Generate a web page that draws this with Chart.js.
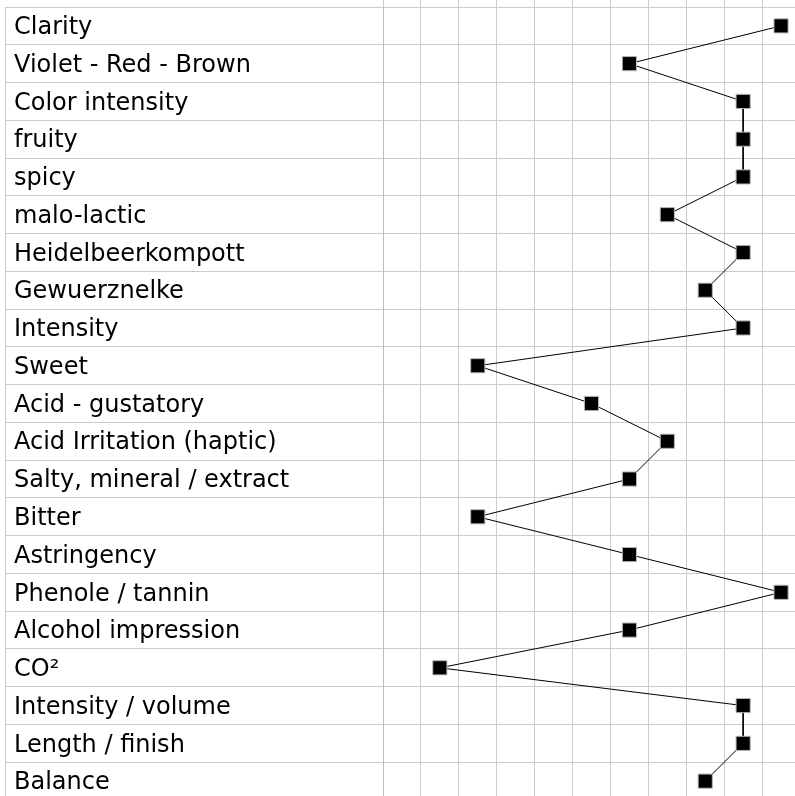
<!DOCTYPE html>
<html>
<head>
<meta charset="utf-8">
<script src="https://cdn.jsdelivr.net/npm/chart.js@4/dist/chart.umd.min.js"></script>
<style>
  html, body { margin: 0; padding: 0; background: #fff; overflow: hidden; }
  #wrap { width: 795px; height: 796px; overflow: hidden; }
</style>
</head>
<body>
<div id="wrap"><canvas id="tasting" width="800" height="800"></canvas></div>
<script>
// Kriterien (Zeilen der Tabelle)
const criteria = [
    'Clarity',
    'Violet - Red - Brown',
    'Color intensity',
    'fruity',
    'spicy',
    'malo-lactic',
    'Heidelbeerkompott',
    'Gewuerznelke',
    'Intensity',
    'Sweet',
    'Acid - gustatory',
    'Acid Irritation (haptic)',
    'Salty, mineral / extract',
    'Bitter',
    'Astringency',
    'Phenole / tannin',
    'Alcohol impression',
    'CO²',
    'Intensity / volume',
    'Length / finish',
    'Balance'
];

// Bewertung pro Kriterium (Spalte 1..11)
const scores = [11, 7, 10, 10, 10, 8, 10, 9, 10, 3, 6, 8, 7, 3, 7, 11, 7, 2, 10, 10, 9];

// Skala
const scoreMin = 1;
const scoreMax = 11;

const gridColor = '#cccccc';

// Linker Rand der Tabelle (linke Spalte mit den Kriterien)
const tableBorder = {
    id: 'tableBorder',
    afterDraw(chart) {
        const y = chart.scales.y;
        const ctx = chart.ctx;
        ctx.save();
        ctx.strokeStyle = gridColor;
        ctx.lineWidth = 1;
        ctx.beginPath();
        ctx.moveTo(5.5, y.top);
        ctx.lineTo(5.5, y.bottom);
        ctx.stroke();
        ctx.restore();
    }
};

const ctx = document.getElementById('tasting').getContext('2d');
new Chart(ctx, {
    type: 'line',
    data: {
        labels: criteria,
        datasets: [{
            data: scores,
            borderColor: '#000',
            borderWidth: 1,
            pointStyle: 'rect',
            pointRadius: 10,
            pointBackgroundColor: '#000',
            pointBorderColor: '#b5b5b5',
            pointBorderWidth: 1,
            tension: 0,
            clip: false
        }]
    },
    options: {
        indexAxis: 'y',
        responsive: false,
        animation: false,
        layout: { autoPadding: false, padding: { left: 14, right: 0, top: 0, bottom: 0 } },
        plugins: {
            legend: { display: false },
            tooltip: { enabled: false }
        },
        scales: {
            x: {
                type: 'linear',
                position: 'top',
                min: scoreMin - 0.5,
                max: scoreMax + 0.5,
                ticks: { display: false, stepSize: 1 },
                grid: { color: gridColor, lineWidth: 1, tickLength: 7 },
                border: { display: false },
                afterFit(scale) {
                    scale.height = 7;
                    scale.paddingLeft = 0;
                    scale.paddingRight = 0;
                }
            },
            y: {
                type: 'category',
                position: 'left',
                offset: true,
                ticks: {
                    crossAlign: 'far',
                    labelOffset: 2,
                    color: '#000',
                    font: { family: 'DejaVu Sans', size: 24 },
                    autoSkip: false
                },
                grid: { offset: true, color: gridColor, lineWidth: 1, tickLength: 378 },
                border: { display: true, color: '#bdbdbd', width: 1 },
                afterFit(scale) {
                    scale.width = 369;
                    scale.paddingTop = 0;
                    scale.paddingBottom = 0;
                }
            }
        }
    },
    plugins: [tableBorder]
});
</script>
</body>
</html>
